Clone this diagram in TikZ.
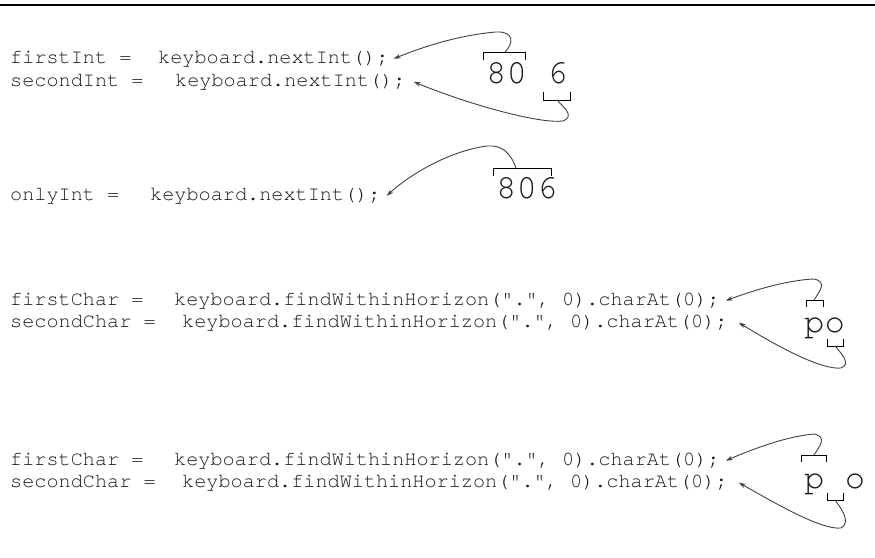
\documentclass[tikz,border=0pt]{standalone}
\usepackage{fontspec}
\setmonofont{TeX Gyre Cursor}[Ligatures={NoCommon,NoRare}]
\usetikzlibrary{arrows.meta}
\begin{document}
\begin{tikzpicture}[x=1pt,y=-1pt,
  code/.style={font=\ttfamily\fontsize{20.2}{24}\selectfont, text=black!90, anchor=base west, inner sep=0pt},
  big/.style={font=\ttfamily\fontsize{34}{40}\selectfont, text=black!90, anchor=base west, inner sep=0pt},
  brk/.style={line width=1pt, draw=black},
  link/.style={line width=0.9pt, draw=black!75, -{Stealth[length=7pt,width=4.5pt]}}]
\useasboundingbox (0,0) rectangle (875,557);
\draw[line width=2pt] (0,5) -- (875,5);

% --- section 1
\node[code] (v1) at (10,63) {firstInt =};
\node[code] (c1) at (158,63) {keyboard.nextInt();};
\node[code] (v2) at (10,86) {secondInt =};
\node[code] (c2) at (175,86) {keyboard.nextInt();};
\node[big] (n80) at (486,83) {80 6};
\draw[brk] (483,60) -- (483,52) -- (525,52) -- (525,60);
\coordinate (b1) at (505,52);
\draw[brk] (543,92) -- (543,100) -- (570,100) -- (570,92);
\coordinate (b2) at (557,100);
\draw[link] (b1) .. controls (514,43) and (514,31) .. (496,32)
  .. controls (460,35) and (425,46) .. ([xshift=5pt]c1.east);
\draw[link] (b2) .. controls (562,106) and (576,116) .. (563,121)
  .. controls (540,124) and (470,105) .. ([xshift=8pt]c2.east);

% --- section 2
\node[code] (v3) at (10,200) {onlyInt =};
\node[code] (c3) at (150,200) {keyboard.nextInt();};
\node[big] (n806) at (496,198) {806};
\draw[brk] (493,176) -- (493,168) -- (551,168) -- (551,176);
\coordinate (b3) at (516,168);
\draw[link] (b3) .. controls (510,152) and (502,145) .. (487,146)
  .. controls (455,150) and (415,170) .. ([xshift=6pt]c3.east);

% --- section 3
\node[code] (v4) at (10,305) {firstChar =};
\node[code] (c4) at (174,305) {keyboard.findWithinHorizon(".", 0).charAt(0);};
\node[code] (v5) at (10,327) {secondChar =};
\node[code] (c5) at (182,327) {keyboard.findWithinHorizon(".", 0).charAt(0);};
\node[big] (po) at (804,332) {po};
\draw[brk] (806,307) -- (806,300) -- (823,300) -- (823,307);
\coordinate (b4) at (814,300);
\draw[brk] (827,339) -- (827,346) -- (843,346) -- (843,339);
\coordinate (b5) at (835,346);
\draw[link] (b4) .. controls (819,292) and (828,282) .. (814,279)
  .. controls (790,280) and (760,288) .. ([xshift=6pt]c4.east);
\draw[link] (b5) .. controls (840,352) and (852,364) .. (841,368)
  .. controls (822,370) and (780,348) .. ([xshift=11pt]c5.east);

% --- section 4
\node[code] (v6) at (10,465) {firstChar =};
\node[code] (c6) at (174,465) {keyboard.findWithinHorizon(".", 0).charAt(0);};
\node[code] (v7) at (10,487) {secondChar =};
\node[code] (c7) at (182,487) {keyboard.findWithinHorizon(".", 0).charAt(0);};
\node[big] (pso) at (804,488) {p o};
\draw[brk] (801,462) -- (801,455) -- (826,455) -- (826,462);
\coordinate (b6) at (814,455);
\draw[brk] (827,493) -- (827,500) -- (843,500) -- (843,493);
\coordinate (b7) at (835,500);
\draw[link] (b6) .. controls (819,447) and (828,437) .. (814,434)
  .. controls (790,436) and (760,446) .. ([xshift=6pt]c6.east);
\draw[link] (b7) .. controls (840,507) and (852,522) .. (841,528)
  .. controls (822,530) and (780,506) .. ([xshift=11pt]c7.east);
\end{tikzpicture}
\end{document}
